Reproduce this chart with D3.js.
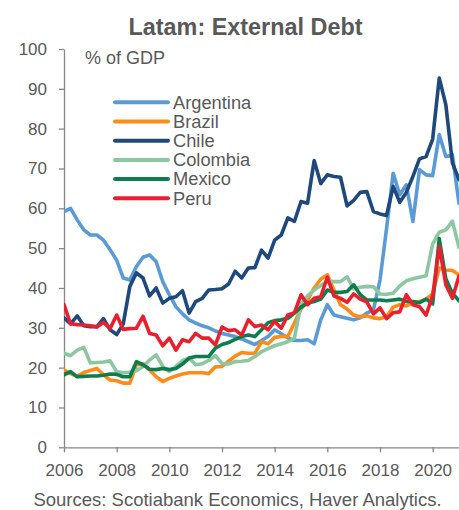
<!DOCTYPE html>
<html>
<head>
<meta charset="utf-8">
<script src="https://cdn.jsdelivr.net/npm/d3@7"></script>
<style>
  body { margin: 0; background: #fff; }
  text { font-family: "Liberation Sans", Arial, sans-serif; fill: #595959; }
</style>
</head>
<body>
<script>
// quarterly external debt, % of GDP, 2006Q1 .. 2021Q1
var startYear = 2006;
var names = ["Argentina", "Brazil", "Chile", "Colombia", "Mexico", "Peru"];
var colors = ["#5b9bd5", "#ff8c1a", "#1f497d", "#8cc7a1", "#0e7d4e", "#e8202e"];

var argentina = [59.2, 60, 57.1, 54.6, 53.3, 53.3, 52, 49.6, 47, 42.5, 42, 45.4, 47.7, 48.3, 46.6, 41.6,
  38.3, 35.3, 33.5, 32, 31.2, 30.5, 30, 29.2, 28.6, 28.2, 27.8, 27.2, 26.5, 25.8, 26.8, 27.8,
  29.5, 28.5, 27.5, 26.8, 26.8, 27, 26, 32, 35.8, 33.2, 32.8, 32.4, 32, 32.5, 33.7, 34.5,
  42, 55, 68.8, 63.4, 65.9, 56.7, 69.7, 68.4, 68.2, 78.5, 73, 73.4, 61.3];
var brazil = [19.4, 18.5, 17.8, 18.8, 19.3, 19.8, 18.2, 16.9, 16.7, 16.1, 16.1, 20.7, 21, 19.4, 17.7, 16.5,
  17.3, 17.9, 18.4, 18.7, 18.7, 18.7, 18.5, 20.2, 20.3, 21.6, 22.9, 23.8, 23.6, 23.6, 26.5, 26,
  27.6, 27.8, 27.8, 31.2, 34.7, 37, 40, 42.2, 43.3, 39.5, 35.8, 34.7, 33.2, 32.8, 33, 32.5,
  32.3, 32.8, 35.2, 35.8, 35.5, 36.3, 36.6, 37.2, 38.5, 45, 44.5, 44.4, 43.3];
var chile = [32.5, 31, 33, 30.5, 30.3, 30.3, 32.3, 29.5, 28.3, 31, 40.4, 43.8, 42.5, 38, 40, 36.2,
  37.4, 37.8, 39.3, 33.7, 36.6, 37.4, 39.5, 39.6, 39.8, 41, 44.2, 42.5, 45, 45.1, 49.5, 47.5,
  52, 53.3, 57.6, 56.7, 61.7, 61.3, 72, 66.2, 68.4, 68, 67.8, 60.6, 62, 64, 64.2, 59.2,
  58.6, 58.2, 65.5, 61.5, 64, 68, 72.4, 73, 77.4, 92.7, 86, 71.4, 67.2];
var colombia = [23.6, 23, 24.4, 25.1, 21.2, 21.3, 21.4, 21.7, 19, 18.7, 18.8, 19.2, 20.3, 21.9, 23.2, 20.3,
  19, 20.3, 21.8, 22.4, 20.7, 21, 21.8, 23, 21, 20.9, 21.5, 21.6, 21.8, 22.8, 24, 24.8,
  25.5, 26, 26.5, 27.4, 36, 38, 39.5, 40.6, 41.7, 41.6, 41.6, 42.8, 39.8, 40.2, 40.4, 40.3,
  38.5, 38.4, 38.7, 40.5, 41.8, 42.3, 42.7, 43.1, 51, 54, 54.6, 56.8, 50.2];
var mexico = [18.2, 19, 17.7, 17.8, 17.9, 17.9, 18.1, 18.4, 18.3, 17.7, 17.7, 21.5, 20.7, 19.6, 19.5, 19.8,
  19.5, 19.8, 20.9, 22.4, 22.8, 22.8, 22.8, 24.9, 25.8, 26.3, 27.1, 27.8, 28.2, 27.8, 29.5, 31.3,
  31.8, 32, 32.4, 33.7, 35.2, 36.2, 36.6, 37.2, 39.5, 38.9, 38.9, 39.1, 40.8, 38.3, 37, 37,
  37, 36.8, 37, 37.2, 36.6, 36.6, 36.3, 37.2, 36, 52.4, 42.3, 38.7, 36.8];
var peru = [35.8, 31, 30.8, 30.7, 30.5, 30.2, 31.4, 29.8, 33.2, 29.6, 29.8, 29.9, 32.9, 28.6, 28.2, 25.5,
  27.4, 24.4, 27, 26.5, 28.6, 27.4, 27.4, 25.7, 30.2, 29.3, 29.5, 28.2, 32, 30.3, 30.7, 29.5,
  31.6, 29.9, 33.2, 33.8, 38.3, 35.8, 37.4, 37.8, 42.7, 38, 37.4, 36.4, 38.5, 37.2, 36.5, 33.5,
  35, 32.3, 33.8, 34, 38.3, 35.8, 35.3, 33.2, 38, 50.5, 40.8, 37.4, 43];

var yTicks = [0, 10, 20, 30, 40, 50, 60, 70, 80, 90, 100];
var xTicks = [2006, 2008, 2010, 2012, 2014, 2016, 2018, 2020];

var series = [argentina, brazil, chile, colombia, mexico, peru];

var width = 459, height = 510;
var plotLeft = 64, plotRight = 459, plotTop = 49, plotBottom = 447.3;

var svg = d3.select("body").append("svg").attr("width", width).attr("height", height);

var x = d3.scaleLinear().domain([2006, 2021]).range([plotLeft, plotRight]);
var y = d3.scaleLinear().domain([0, 100]).range([plotBottom, plotTop]);

svg.append("defs").append("clipPath").attr("id", "plot")
  .append("rect").attr("x", plotLeft).attr("y", 0).attr("width", plotRight - plotLeft + 1).attr("height", plotBottom);

// axes
var yAxis = svg.append("g").attr("transform", "translate(" + plotLeft + ",0)")
  .call(d3.axisLeft(y).tickValues(yTicks).tickSize(5).tickSizeOuter(0).tickPadding(12));
var xAxis = svg.append("g").attr("transform", "translate(0," + plotBottom + ")")
  .call(d3.axisBottom(x).tickValues(xTicks).tickFormat(d3.format("d")).tickSize(5).tickSizeOuter(0).tickPadding(12));

[yAxis, xAxis].forEach(function (a) {
  a.select(".domain").attr("stroke", "#868686").attr("stroke-width", 1.3);
  a.selectAll(".tick line").attr("stroke", "#868686").attr("stroke-width", 1.3);
  a.selectAll(".tick text").style("font-size", "17px").attr("fill", "#595959");
});

// lines
var line = d3.line()
  .x(function (d, i) { return x(startYear + i / 4); })
  .y(function (d) { return y(d); });

svg.append("g").attr("clip-path", "url(#plot)")
  .selectAll("path").data(series).enter().append("path")
  .attr("d", line)
  .attr("fill", "none")
  .attr("stroke", function (d, i) { return colors[i]; })
  .attr("stroke-width", 3.6)
  .attr("stroke-linejoin", "round")
  .attr("stroke-linecap", "round");

// legend
var legend = svg.selectAll(".legend").data(names).enter().append("g")
  .attr("class", "legend")
  .attr("transform", function (d, i) { return "translate(115," + (102.3 + i * 19.2) + ")"; });
legend.append("line").attr("x1", 0).attr("x2", 53).attr("y1", 0).attr("y2", 0)
  .attr("stroke", function (d, i) { return colors[i]; })
  .attr("stroke-width", 4).attr("stroke-linecap", "round");
legend.append("text").attr("x", 58).attr("y", 6.3).style("font-size", "18.3px").text(function (d) { return d; });

// titles
svg.append("text").attr("x", 85).attr("y", 64).style("font-size", "18px").text("% of GDP");
svg.append("text").attr("x", 245.5).attr("y", 35).attr("text-anchor", "middle")
  .style("font-size", "23.4px").style("font-weight", "bold").text("Latam: External Debt");
svg.append("text").attr("x", 237.5).attr("y", 506).attr("text-anchor", "middle")
  .style("font-size", "18.5px").text("Sources: Scotiabank Economics, Haver Analytics.");
</script>
</body>
</html>
